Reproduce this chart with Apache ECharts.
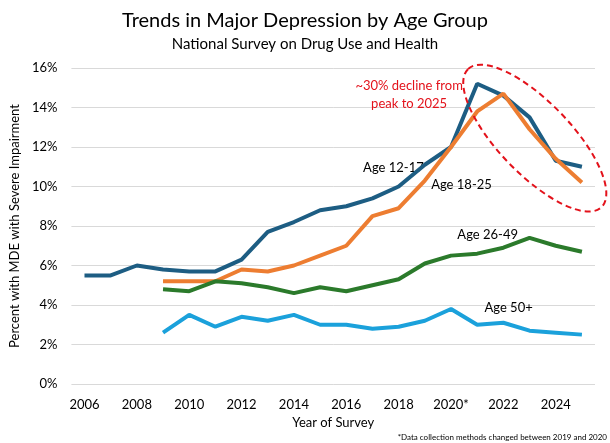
<!DOCTYPE html>
<html>
<head>
<meta charset="utf-8">
<script src="https://cdn.jsdelivr.net/npm/echarts@6/dist/echarts.min.js"></script>
<style>
  html, body { margin: 0; padding: 0; background: #fff; }
  #chart { width: 610px; height: 443px; }
</style>
</head>
<body>
<div id="chart"></div>
<script>
var years = ['2006', '2007', '2008', '2009', '2010', '2011', '2012', '2013', '2014', '2015',
             '2016', '2017', '2018', '2019', '2020', '2021', '2022', '2023', '2024', '2025'];
var yearLabels = {'2020': '2020*'};

// percent with MDE with severe impairment
var age12to17 = [5.5, 5.5, 6.0, 5.8, 5.7, 5.7, 6.3, 7.7, 8.2, 8.8, 9.0, 9.4, 10.0, 11.1, 12.0, 15.2, 14.6, 13.5, 11.3, 11.0];
var age18to25 = [null, null, null, 5.2, 5.2, 5.2, 5.8, 5.7, 6.0, 6.5, 7.0, 8.5, 8.9, 10.3, 12.0, 13.8, 14.7, 12.9, 11.4, 10.2];
var age26to49 = [null, null, null, 4.8, 4.7, 5.2, 5.1, 4.9, 4.6, 4.9, 4.7, 5.0, 5.3, 6.1, 6.5, 6.6, 6.9, 7.4, 7.0, 6.7];
var age50plus = [null, null, null, 2.6, 3.5, 2.9, 3.4, 3.2, 3.5, 3.0, 3.0, 2.8, 2.9, 3.2, 3.8, 3.0, 3.1, 2.7, 2.6, 2.5];

var font = 'Lato';
var chart = echarts.init(document.getElementById('chart'), null, { renderer: 'canvas' });

function lineSeries(name, data, color) {
    return {
        name: name,
        type: 'line',
        data: data,
        symbol: 'none',
        smooth: false,
        lineStyle: { color: color, width: 4 },
        itemStyle: { color: color },
        animation: false
    };
}

chart.setOption({
    backgroundColor: '#fff',
    textStyle: { fontFamily: font },
    title: {
        text: 'Trends in Major Depression by Age Group',
        subtext: 'National Survey on Drug Use and Health',
        left: 'center',
        top: 6,
        itemGap: 6,
        textStyle: { fontFamily: font, fontSize: 20, fontWeight: 'normal', color: '#000' },
        subtextStyle: { fontFamily: font, fontSize: 15, color: '#000' }
    },
    grid: { left: 69, right: 15, top: 68, bottom: 59 },
    xAxis: {
        type: 'category',
        data: years,
        boundaryGap: true,
        name: 'Year of Survey',
        nameLocation: 'middle',
        nameGap: 30,
        nameTextStyle: { fontFamily: font, fontSize: 13, color: '#000' },
        axisLine: { show: false },
        axisTick: { show: false },
        axisLabel: {
            interval: 1,
            margin: 14,
            fontFamily: font, fontSize: 13, color: '#000',
            formatter: function (v) { return yearLabels[v] || v; }
        }
    },
    yAxis: {
        type: 'value',
        min: 0,
        max: 16,
        interval: 2,
        name: 'Percent with MDE with Severe Impairment',
        nameLocation: 'middle',
        nameGap: 47,
        nameTextStyle: { fontFamily: font, fontSize: 13, color: '#000' },
        axisLabel: {
            fontFamily: font, fontSize: 13, color: '#000', margin: 14,
            formatter: '{value}%'
        },
        splitLine: { lineStyle: { color: '#d9d9d9', width: 1 } }
    },
    series: [
        lineSeries('Age 12-17', age12to17, '#1d5d83'),
        lineSeries('Age 18-25', age18to25, '#ed7d31'),
        lineSeries('Age 26-49', age26to49, '#2b7a2b'),
        lineSeries('Age 50+', age50plus, '#1ba1db')
    ]
});

// annotations placed from data coordinates (fractional years interpolated)
function px(year, value) {
    var base = Math.floor(year);
    var frac = year - base;
    var p0 = chart.convertToPixel({ gridIndex: 0 }, [String(base), value]);
    var p1 = chart.convertToPixel({ gridIndex: 0 }, [String(base + 1), value]);
    return [p0[0] + (p1[0] - p0[0]) * frac, p0[1]];
}

function label(text, year, value, color) {
    var p = px(year, value);
    return {
        type: 'text',
        x: p[0], y: p[1],
        style: {
            text: text, fill: color || '#000',
            font: '13px ' + font,
            textAlign: 'center', textVerticalAlign: 'middle'
        }
    };
}

var c = px(2023.2, 12.45);

chart.setOption({
    graphic: [
        {
            type: 'ellipse',
            x: c[0], y: c[1],
            rotation: -Math.PI * 46 / 180,
            shape: { cx: 0, cy: 0, rx: 96, ry: 36 },
            style: { fill: 'none', stroke: '#e3121b', lineWidth: 2, lineDash: [6, 4] },
            z: 10
        },
        label('~30% decline from', 2018.4, 15.1, '#e3121b'),
        label('peak to 2025', 2018.4, 14.2, '#e3121b'),
        label('Age 12-17', 2017.8, 10.95),
        label('Age 18-25', 2020.4, 10.1),
        label('Age 26-49', 2021.4, 7.55),
        label('Age 50+', 2022.2, 3.85),
        {
            type: 'text',
            right: 3, bottom: 2,
            style: {
                text: '*Data collection methods changed between 2019 and 2020',
                fill: '#000', font: '8px ' + font
            }
        }
    ]
});
</script>
</body>
</html>
